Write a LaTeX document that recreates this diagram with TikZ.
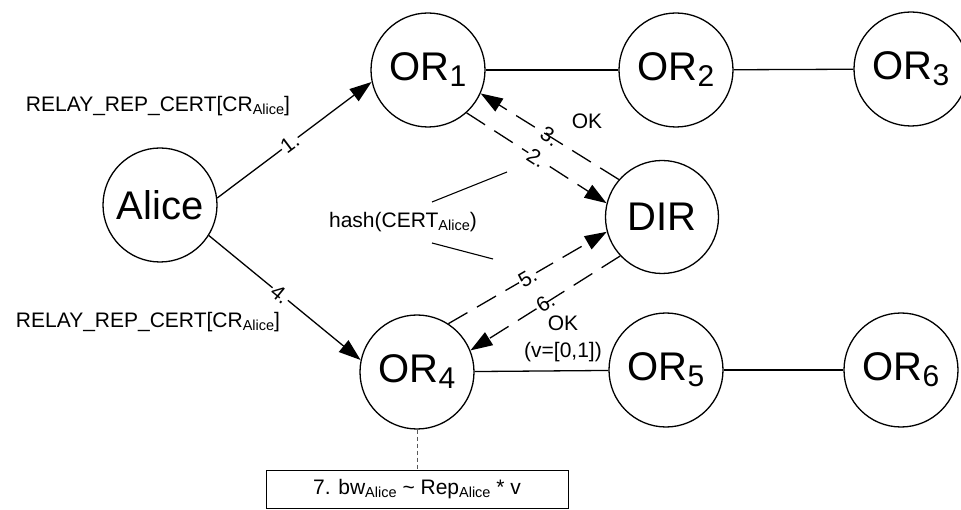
\documentclass[tikz,border=0pt]{standalone}
\usepackage{fontspec}
\setmainfont{Liberation Sans}
\usetikzlibrary{arrows.meta}

% subscripts for the large relay names and for the small message texts
\newcommand\bsub[1]{\raisebox{-6pt}{\fontsize{30}{30}\selectfont #1}}
\newcommand\ssub[1]{\raisebox{-3pt}{\fontsize{14.5}{14.5}\selectfont #1}}

\begin{document}
\begin{tikzpicture}[x=1pt,y=-1pt,
  station/.style={circle,draw,line width=1.3pt,minimum size=114pt,inner sep=0pt,
                  font=\fontsize{40}{40}\selectfont},
  link/.style={line width=1.3pt},
  msg/.style={line width=1.3pt,-{Triangle[length=22pt,width=15pt]}},
  msgdash/.style={msg,dash pattern=on 22pt off 11pt},
  lbl/.style={font=\fontsize{21}{27}\selectfont,inner sep=1pt,align=center},
  steplbl/.style={lbl,sloped},
  stepcut/.style={steplbl,fill=white},
  callout/.style={line width=1.1pt},
  note/.style={draw,line width=1pt,minimum width=302pt,minimum height=38pt,
               inner sep=0pt,font=\fontsize{21}{24}\selectfont},
]
\useasboundingbox (0,0) rectangle (961,510);

% relays and directory
\node[station] (Alice) at (160,205) {Alice};
\node[station] (OR1) at (428,70) {OR\bsub{1}};
\node[station] (OR2) at (676,70) {OR\bsub{2}};
\node[station] (OR3) at (911,69) {OR\bsub{3}};
\node[station,minimum size=113pt] (DIR) at (662,217) {DIR};
\node[station] (OR4) at (417,372) {OR\bsub{4}};
\node[station] (OR5) at (666,370) {OR\bsub{5}};
\node[station] (OR6) at (901,370) {OR\bsub{6}};

% circuit links
\draw[link] (OR1) -- (OR2);
\draw[link] (OR2) -- (OR3);
\draw[link] (OR4) -- (OR5);
\draw[link] (OR5) -- (OR6);

% message flow
\draw[msg] (Alice.7) -- (OR1.192) node[pos=0.47,stepcut] {1.};
\draw[msgdash] (OR1.-48) -- (DIR.166) node[midway,stepcut] {2.};
\draw[msgdash] (DIR.139) -- (OR1.-24) node[midway,steplbl] {3.};
\draw[msg] (Alice.-32) -- (OR4.168) node[pos=0.47,stepcut] {4.};
\draw[msgdash] (OR4.57) -- (DIR.195) node[midway,stepcut] {5.};
\draw[msgdash] (DIR.223) -- (OR4.22) node[midway,steplbl] {6.};

% message texts
\node[lbl] (relaytop) at (158,106) {RELAY\_REP\_CERT[CR\ssub{Alice}]};
\node[lbl] (relaybot) at (148,322) {RELAY\_REP\_CERT[CR\ssub{Alice}]};
\node[lbl] (okdir) at (587,121) {OK};
\node[lbl] (okrep) at (563,339) {OK\\(v=[0,1])};
\node[lbl] (hash) at (403,222) {hash(CERT\ssub{Alice})};

% callout strokes from the hash text
\coordinate (hu1) at (432,202);
\coordinate (hu2) at (507,172);
\coordinate (hl1) at (432,243);
\coordinate (hl2) at (493,259);
\draw[callout] (hu1) -- (hu2);
\draw[callout] (hl1) -- (hl2);

% bandwidth rule attached to OR4
\node[note] (bw) at (417,489) {7. bw\ssub{Alice} \textasciitilde{} Rep\ssub{Alice} * v};
\draw[gray!70!black,line width=0.9pt,dash pattern=on 4pt off 3pt] (OR4) -- (bw);
\end{tikzpicture}
\end{document}
